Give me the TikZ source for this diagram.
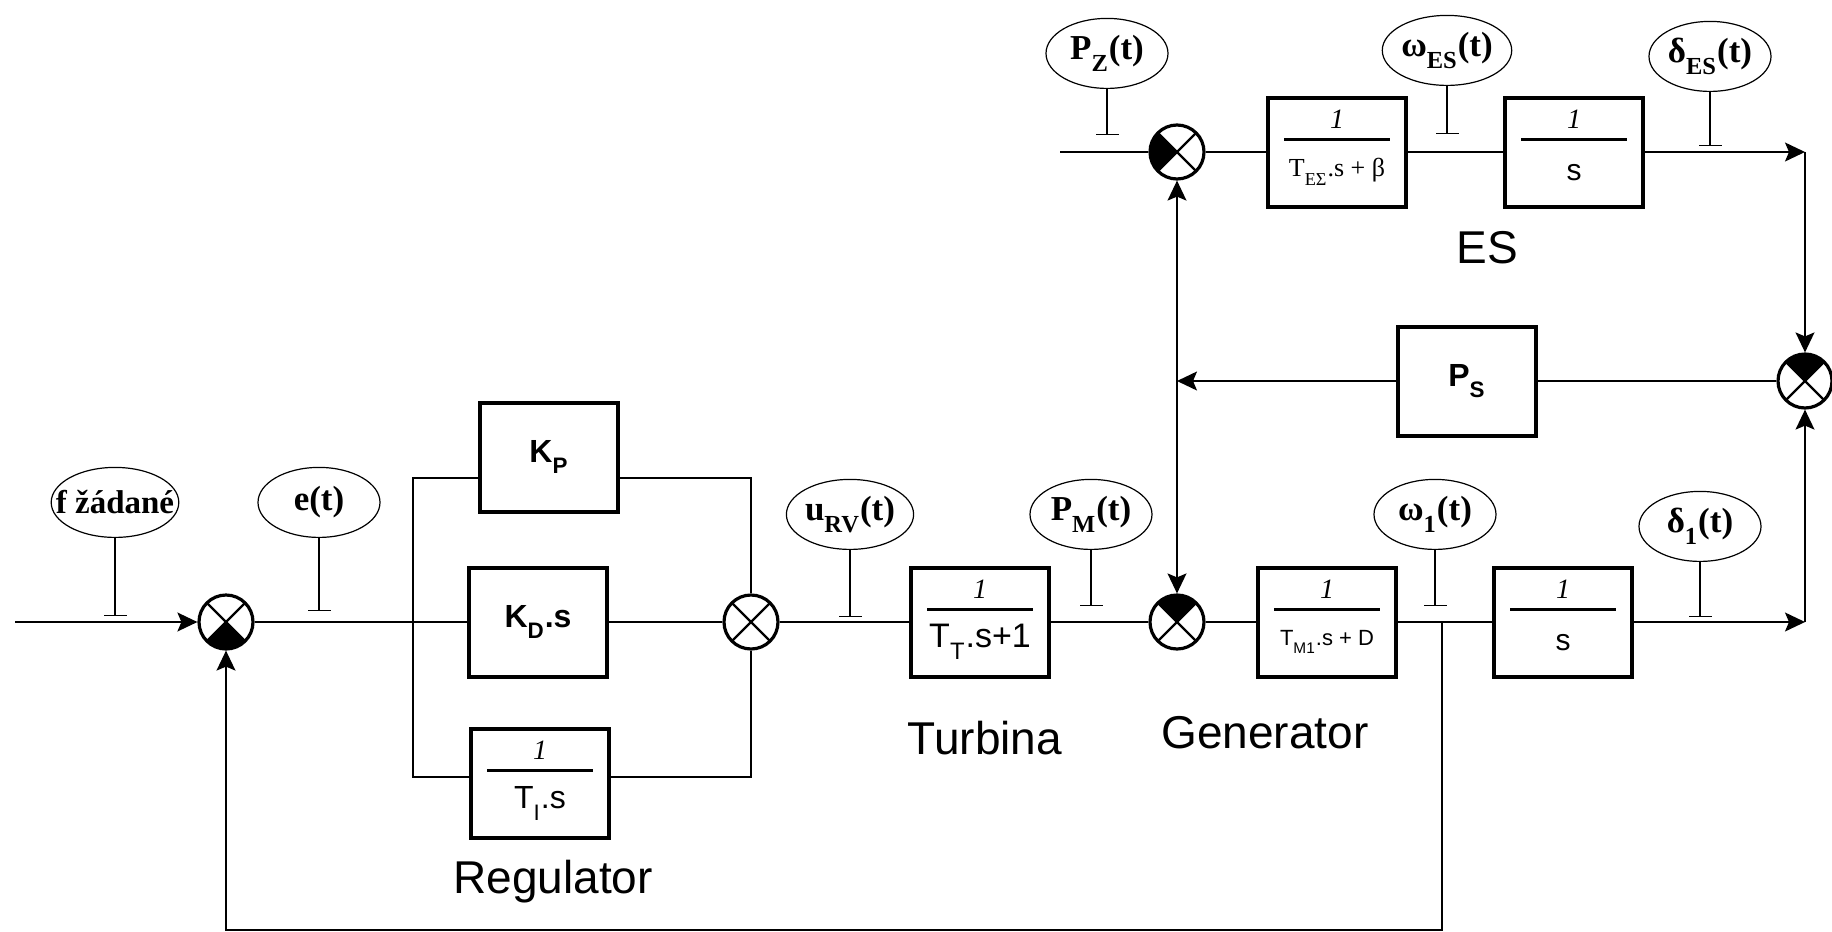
\documentclass[tikz,border=0pt]{standalone}
\usepackage{fontspec}
\setmainfont{Liberation Serif}
\setsansfont{Liberation Sans}
\usetikzlibrary{arrows.meta,positioning,shapes.geometric}
\newcommand{\blkfrac}[1]{%
  \renewcommand{\arraystretch}{0}%
  \begin{tabular}{@{}c@{}}
    {\rmfamily\mdseries\itshape\fontsize{14}{14}\selectfont 1}\\[5pt]
    \rule{53pt}{1.5pt}\\[4.5pt]
    \vbox to 22pt{\vss\hbox{#1}\vss}
  \end{tabular}}
\newcommand{\lsub}[1]{\raisebox{-0.2em}{\textsubscript{#1}}}
\newcommand{\sumwedge}[2]{\fill (path picture bounding box.center) -- (path picture bounding box.#1) -- (path picture bounding box.#2) -- cycle;}

\begin{document}
\begin{tikzpicture}[x=0.5pt,y=-0.5pt,line width=0.7pt,node distance=2mm,every node/.style={align=center},
  blk/.style={draw,line width=2pt,minimum width=69pt,minimum height=54.5pt,inner sep=0pt,font=\sffamily\bfseries\fontsize{16}{18}\selectfont},
  fblk/.style={blk,font=\sffamily\mdseries},
  sumj/.style={circle,draw,line width=1.6pt,minimum size=27pt,inner sep=0pt,
    path picture={#1\draw[line width=1.1pt] (path picture bounding box.north west) -- (path picture bounding box.south east)
      (path picture bounding box.north east) -- (path picture bounding box.south west);}},
  sumj/.default={},
  lab/.style={ellipse,draw,line width=0.6pt,minimum width=61pt,minimum height=35pt,inner sep=0pt,font=\bfseries\fontsize{17.5}{19}\selectfont},
  capt/.style={font=\sffamily\fontsize{23}{26}\selectfont},
  tick/.style={-{Bar[width=11.5pt]}},
  arr/.style={-{Stealth[length=10pt,width=9.5pt,inset=2pt]}},
  arrs/.style={{Stealth[length=10pt,width=9.5pt,inset=2pt]}-{Stealth[length=10pt,width=9.5pt,inset=2pt]}}]
        \useasboundingbox (0,0) rectangle (1832,932);
        % main loop
        \coordinate (in) at (15,622);
        \node[sumj={\sumwedge{south west}{south east}}] (s1) at (226,622) {};
        \coordinate (tf) at (115,616);
        \node[lab,inner xsep=-7pt,font=\bfseries\fontsize{16.5}{19}\selectfont,above=39pt of tf] (fz) {f žádané};
        \coordinate (te) at (319,611);
        \node[lab,above=36.5pt of te] (et) {e(t)};
        \coordinate (kl) at (413,478);
        \coordinate (tl) at (413,777);
        \node[blk] (kp) at (549,457) {K\lsub{P}};
        \node[blk] (kd) at (538,622) {K\lsub{D}.s};
        \node[fblk] (ti) at (540,783) {\blkfrac{\fontsize{16}{16}\selectfont T\lsub{I}.s}};
        \coordinate (kr) at (751,478);
        \coordinate (tr) at (751,777);
        \node[sumj] (s2) at (751,622) {};
        \coordinate (tu) at (850,617);
        \node[lab,above=33.5pt of tu] (urv) {u\lsub{RV}(t)};
        \node[fblk] (tt) at (980,622) {\blkfrac{\fontsize{17}{17}\selectfont T\lsub{T}.s+1}};
        \coordinate (tpm) at (1091,606);
        \node[lab,above=28pt of tpm] (pm) {P\lsub{M}(t)};
        \node[sumj={\sumwedge{north west}{north east}}] (s3) at (1177,622) {};
        \node[fblk] (gen) at (1327,622) {\blkfrac{\fontsize{11}{11}\selectfont T\lsub{M1}.s + D}};
        \coordinate (tw1) at (1435,606);
        \node[lab,above=28pt of tw1] (w1) {ω\lsub{1}(t)};
        \coordinate (fb) at (1442,622);
        \coordinate (fbb) at (1442,930);
        \node[fblk] (int1) at (1563,622) {\blkfrac{\fontsize{15}{15}\selectfont s}};
        \coordinate (td1) at (1700,617);
        \node[lab,above=27.5pt of td1] (d1) {δ\lsub{1}(t)};
        \coordinate (cbot) at (1805,622);
        % ES part
        \node[sumj={\sumwedge{north west}{north east}}] (s5) at (1805,381) {};
        \node[blk] (ps) at (1467,381) {\fontsize{16}{18}\selectfont P\lsub{S}};
        \coordinate (pj) at (1177,381);
        \node[sumj={\sumwedge{north west}{south west}}] (s4) at (1177,152) {};
        \coordinate (pzin) at (1060,152);
        \coordinate (tpz) at (1107,135);
        \node[lab,above=23pt of tpz] (pz) {P\lsub{Z}(t)};
        \node[fblk] (tes) at (1337,152) {\blkfrac{\rmfamily\fontsize{13}{13}\selectfont T\lsub{EΣ}.s + β}};
        \coordinate (tws) at (1447,134);
        \node[lab,above=24pt of tws] (wes) {ω\lsub{ES}(t)};
        \node[fblk] (ies) at (1574,152) {\blkfrac{\fontsize{15}{15}\selectfont s}};
        \coordinate (tds) at (1710,146);
        \node[lab,above=27pt of tds] (des) {δ\lsub{ES}(t)};
        \coordinate (ctop) at (1805,152);
        \node[capt] (reg) at (553,882) {Regulator};
        \node[capt] (tur) at (985,738) {Turbina};
        \node[capt] (gtx) at (1265,733) {Generator};
        \node[capt] (es) at (1487,248) {ES};
        % connections
        \draw[arr] (in) -- (s1);
        \draw (s1) -- (kd);
        \draw (kp.west |- kl) -- (kl) -- (tl) -- (ti.west |- tl);
        \draw (kp.east |- kr) -- (kr) -- (s2);
        \draw (ti.east |- tr) -- (tr) -- (s2);
        \draw (kd) -- (s2);
        \draw (s2) -- (tt);
        \draw (tt) -- (s3);
        \draw (s3) -- (gen);
        \draw (gen) -- (int1);
        \draw[arr] (int1) -- (cbot);
        \draw[arr] (cbot) -- (s5);
        \draw[arr] (fb) -- (fbb) -| (s1);
        \draw (s5) -- (ps);
        \draw[arr] (ps) -- (pj);
        \draw[arrs] (s4) -- (s3);
        \draw (pzin) -- (s4);
        \draw (s4) -- (tes);
        \draw (tes) -- (ies);
        \draw[arr] (ies) -- (ctop);
        \draw[arr] (ctop) -- (s5);
        \draw[tick] (fz) -- (tf);
        \draw[tick] (et) -- (te);
        \draw[tick] (urv) -- (tu);
        \draw[tick] (pm) -- (tpm);
        \draw[tick] (w1) -- (tw1);
        \draw[tick] (d1) -- (td1);
        \draw[tick] (pz) -- (tpz);
        \draw[tick] (wes) -- (tws);
        \draw[tick] (des) -- (tds);
      \end{tikzpicture}
\end{document}
